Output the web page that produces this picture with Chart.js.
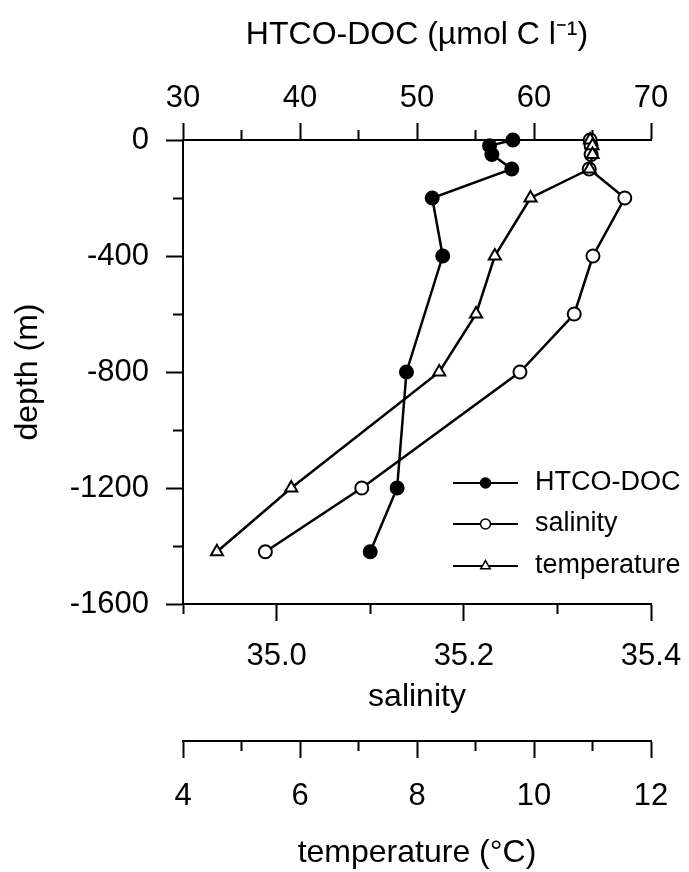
<!DOCTYPE html>
<html>
<head>
<meta charset="utf-8">
<script src="https://cdn.jsdelivr.net/npm/chart.js@4.4.1/dist/chart.umd.min.js"></script>
<style>
  html, body { margin: 0; padding: 0; background: #fff; }
  canvas { display: block; }
</style>
</head>
<body>
<canvas id="profile" width="689" height="872"></canvas>
<script>
// depth of the DOC samples (m)
const docDepths = [0, -20, -50, -100, -200, -400, -800, -1200, -1420];
// HTCO-DOC (umol C l-1)
const docValues = [58.2, 56.2, 56.4, 58.1, 51.3, 52.2, 49.1, 48.3, 46.0];
// depth of the CTD readings (m)
const ctdDepths = [0, -20, -50, -100, -200, -400, -600, -800, -1200, -1420];
const salinityValues = [35.335, 35.336, 35.336, 35.334, 35.372, 35.338, 35.318, 35.26, 35.091, 34.988];
const temperatureValues = [10.96, 11.0, 11.0, 10.95, 9.94, 9.33, 9.01, 8.38, 5.85, 4.58];
const seriesNames = ['HTCO-DOC', 'salinity', 'temperature'];

const FONT = '"Liberation Sans", Arial, Helvetica, sans-serif';
const MAJOR = 17, MINOR = 9;

const toPoints = (xs, ys) => xs.map((v, i) => ({ x: v, y: ys[i] }));

// minor ticks are shortened with a dash pattern; "outer" axes draw from the outside in
const tickDash = (isMajor, outerFirst) => ctx => {
	if (!ctx.tick || isMajor(ctx.tick.value)) return [];
	return outerFirst ? [0, MAJOR - 1 - MINOR, MINOR, 200] : [MINOR, 200];
};

const axisBase = (pos, isMajor, outerFirst) => ({
	position: pos,
	grid: {
		drawOnChartArea: false,
		drawTicks: true,
		tickLength: MAJOR,
		tickWidth: 2,
		tickColor: '#000',
		tickBorderDash: tickDash(isMajor, outerFirst),
	},
	border: { display: true, color: '#000', width: 2 },
});

const isDepthMajor = v => Math.round(v) % 400 === 0;
const isDocMajor = v => Math.round(v) % 10 === 0;
const isSalMajor = v => Math.round(v * 10) % 2 === 0;
const isTempMajor = v => Math.round(v) % 2 === 0;

const tickFont = { family: FONT, size: 31 };
const titleFont = { family: FONT, size: 32 };

// fixed box size, and no extra side padding for the end labels
const fixHeight = h => s => { s.height = h; s.paddingLeft = 0; s.paddingRight = 0; };

//legend drawn inside the plot, line + marker + name
const insideLegend = {
	id: 'insideLegend',
	afterDraw(chart) {
		const { ctx, chartArea } = chart;
		const rows = [-121, -80, -38];
		ctx.save();
		chart.data.datasets.forEach((ds, i) => {
			const y = chartArea.bottom + rows[i];
			const x1 = chartArea.right - 198, x2 = chartArea.right - 133;
			const xm = (x1 + x2) / 2;
			ctx.strokeStyle = '#000';
			ctx.lineWidth = 2;
			ctx.beginPath();
			ctx.moveTo(x1, y);
			ctx.lineTo(x2, y);
			ctx.stroke();
			ctx.fillStyle = ds.pointBackgroundColor;
			ctx.lineWidth = 1.5;
			ctx.beginPath();
			if (ds.pointStyle === 'triangle') {
				const r = 5.5;
				ctx.moveTo(xm, y - r);
				ctx.lineTo(xm + r * 0.866, y + r * 0.5);
				ctx.lineTo(xm - r * 0.866, y + r * 0.5);
				ctx.closePath();
			} else {
				ctx.arc(xm, y, 5, 0, Math.PI * 2);
			}
			ctx.fill();
			ctx.stroke();
			ctx.fillStyle = '#000';
			ctx.font = '27px ' + FONT;
			ctx.textBaseline = 'middle';
			ctx.fillText(ds.label, chartArea.right - 116, y);
		});
		ctx.restore();
	},
};

const lineStyle = {
	borderColor: '#000',
	borderWidth: 2.5,
	pointBorderColor: '#000',
	pointBorderWidth: 2,
	showLine: true,
	fill: false,
	clip: false,
};

new Chart(document.getElementById('profile'), {
	type: 'scatter',
	plugins: [insideLegend],
	data: {
		datasets: [
			{
				...lineStyle,
				label: seriesNames[0],
				data: toPoints(docValues, docDepths),
				xAxisID: 'xDoc',
				pointStyle: 'circle',
				pointRadius: 6.5,
				pointBackgroundColor: '#000',
				order: 2,
			},
			{
				...lineStyle,
				label: seriesNames[1],
				data: toPoints(salinityValues, ctdDepths),
				xAxisID: 'xSal',
				pointStyle: 'circle',
				pointRadius: 6.5,
				pointBackgroundColor: '#fff',
				order: 1,
			},
			{
				...lineStyle,
				label: seriesNames[2],
				data: toPoints(temperatureValues, ctdDepths),
				xAxisID: 'xTemp',
				pointStyle: 'triangle',
				pointRadius: 7,
				pointBackgroundColor: '#fff',
				order: 0,
			},
		],
	},
	options: {
		responsive: false,
		animation: false,
		devicePixelRatio: 1,
		layout: { padding: { left: 0, right: 38, top: 0, bottom: 0 } },
		plugins: { legend: { display: false }, tooltip: { enabled: false } },
		scales: {
			y: {
				...axisBase('left', isDepthMajor, true),
				min: -1600,
				max: 0,
				ticks: {
					stepSize: 200,
					color: '#000',
					font: tickFont,
					padding: 17,
					callback: v => (isDepthMajor(v) ? String(v) : ''),
				},
				title: { display: true, text: 'depth (m)', color: '#000', font: titleFont, padding: { top: 9, bottom: 0 } },
				afterFit: s => { s.width = 183; },
			},
			xDoc: {
				...axisBase('top', isDocMajor, true),
				type: 'linear',
				min: 30,
				max: 70,
				ticks: {
					stepSize: 5,
					autoSkip: false,
					maxRotation: 0,
					color: '#000',
					font: tickFont,
					padding: 6,
					callback: v => (isDocMajor(v) ? String(v) : ''),
				},
				title: { display: true, text: 'HTCO-DOC (µmol C l⁻¹)', color: '#000', font: titleFont, padding: { top: 16, bottom: 0 } },
				afterFit: fixHeight(140),
			},
			xSal: {
				...axisBase('bottom', isSalMajor, false),
				type: 'linear',
				weight: 1,
				min: 34.9,
				max: 35.4,
				ticks: {
					stepSize: 0.1,
					autoSkip: false,
					maxRotation: 0,
					color: '#000',
					font: tickFont,
					padding: 17,
					callback: v => (isSalMajor(v) ? v.toFixed(1) : ''),
				},
				title: { display: true, text: 'salinity', color: '#000', font: titleFont, padding: { top: 0, bottom: 25 } },
				afterFit: fixHeight(137),
			},
			xTemp: {
				...axisBase('bottom', isTempMajor, false),
				type: 'linear',
				weight: 2,
				min: 4,
				max: 12,
				ticks: {
					stepSize: 1,
					autoSkip: false,
					maxRotation: 0,
					color: '#000',
					font: tickFont,
					padding: 20,
					callback: v => (isTempMajor(v) ? String(v) : ''),
				},
				title: { display: true, text: 'temperature (°C)', color: '#000', font: titleFont, padding: { top: 0, bottom: 0 } },
				afterFit: fixHeight(131),
			},
		},
	},
});
</script>
</body>
</html>
